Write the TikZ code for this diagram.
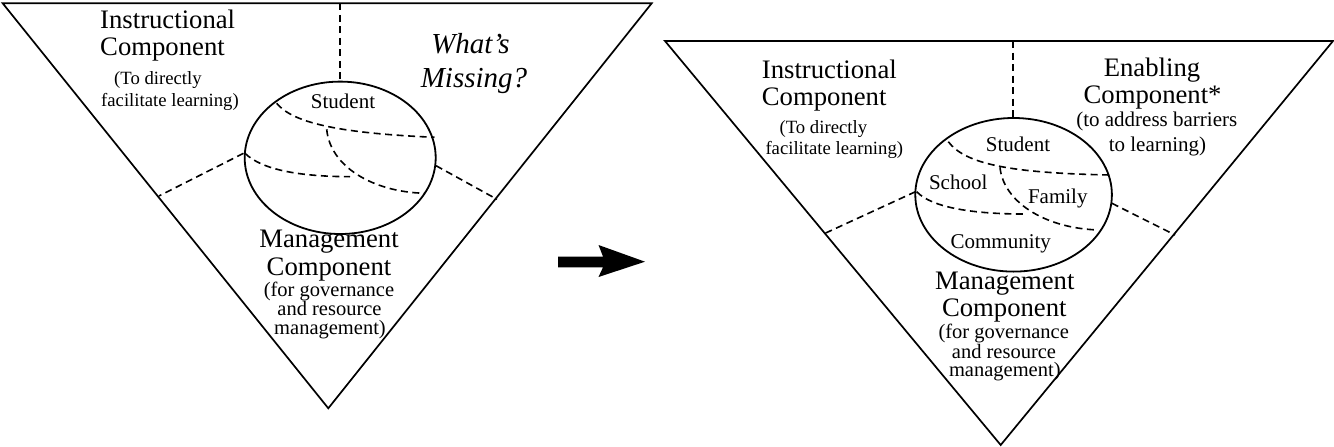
\documentclass[tikz,border=0pt]{standalone}
\usepackage{fontspec}
\setmainfont{Liberation Serif}
\begin{document}
\begin{tikzpicture}[x=1pt,y=-1pt,
  tri/.style={line width=1.7pt, line join=miter},
  ell/.style={line width=1.8pt},
  dsh/.style={line width=1.6pt, dash pattern=on 7pt off 4.5pt},
  big/.style={font=\fontsize{26.7}{27}\selectfont, inner sep=0pt},
  sml/.style={font=\fontsize{18.7}{19}\selectfont, inner sep=0pt},
  mid/.style={font=\fontsize{21}{21}\selectfont, inner sep=0pt},
  mgt/.style={font=\fontsize{20.5}{20}\selectfont, inner sep=0pt},
  ital/.style={font=\fontsize{29}{29}\selectfont\itshape, inner sep=0pt}]
\useasboundingbox (0,0) rectangle (1334,447);

% ---------------- left triangle ----------------
\coordinate (LA) at (2.7,3.3);
\coordinate (LB) at (651.7,3.3);
\coordinate (LC) at (328.3,408.3);
\draw[tri] (LA) -- (LB) -- (LC) -- cycle;

\draw[ell] (340.2,157.8) ellipse [x radius=95.5pt, y radius=76.2pt];
\coordinate (LeTop) at (340.2,81.6);
\coordinate (LvTop) at (340.2,3.3);
\draw[dsh] (LvTop) -- (LeTop);
\coordinate (LeW) at (243.5,153.3);
\coordinate (LsW) at (158.9,196);
\draw[dsh] (LeW) -- (LsW);
\coordinate (LeE) at (436,165.7);
\coordinate (LsE) at (497,199.3);
\draw[dsh] (LeE) -- (LsE);

\coordinate (L1a) at (276.7,103.3);
\coordinate (L1b) at (434.5,137.3);
\coordinate (Lj) at (326.7,129.3);
\draw[dsh] (L1a) .. controls (292,122) and (335,133) .. (L1b);
\coordinate (L2a) at (245,153.3);
\coordinate (L2b) at (350,176.7);
\draw[dsh] (L2a) .. controls (262,170) and (300,176.5) .. (L2b);
\coordinate (L3b) at (425,193.3);
\draw[dsh] (Lj) .. controls (330,166) and (372,192) .. (L3b);

\node[big, anchor=base west] (li1) at (100,28.3) {Instructional};
\node[big, anchor=base west] (li2) at (100,55) {Component};
\node[sml, anchor=base west] (li3) at (114,84) {(To directly};
\node[sml, anchor=base west] (li4) at (101,106) {facilitate learning)};
\node[ital, anchor=base] (lw1) at (470.5,53.3) {What’s};
\node[ital, anchor=base] (lw2) at (474,87.3) {Missing?};
\node[mid, anchor=base] (lst) at (343,108.6) {Student};
\node[big, anchor=base] (lm1) at (329,247.3) {Management};
\node[big, anchor=base] (lm2) at (329,275) {Component};
\node[mgt, anchor=base] (lm3) at (329,296.5) {(for governance};
\node[mgt, anchor=base] (lm4) at (329.5,315.3) {and resource};
\node[mgt, anchor=base] (lm5) at (330,334.5) {management)};

% ---------------- arrow ----------------
\fill (558,256.5) -- (603,256.5) -- (598.5,245) -- (645,261.7) -- (598.5,277) -- (603,267.3) -- (558,267.3) -- cycle;

% ---------------- right triangle ----------------
\coordinate (RA) at (665,41);
\coordinate (RB) at (1333,41);
\coordinate (RC) at (1000.7,445);
\draw[tri] (RA) -- (RB) -- (RC) -- cycle;

\draw[ell] (1013.6,194.8) ellipse [x radius=98.3pt, y radius=76.8pt];
\coordinate (ReTop) at (1013.2,118);
\coordinate (RvTop) at (1013.2,41);
\draw[dsh] (RvTop) -- (ReTop);
\coordinate (ReW) at (915.5,191.7);
\coordinate (RsW) at (825,233.3);
\draw[dsh] (ReW) -- (RsW);
\coordinate (ReE) at (1111.9,203.3);
\coordinate (RsE) at (1175,235);
\draw[dsh] (ReE) -- (RsE);

\coordinate (R1a) at (948.3,141.7);
\coordinate (R1b) at (1110,175);
\coordinate (Rj) at (1000,167.3);
\draw[dsh] (R1a) .. controls (965,164) and (1010,173) .. (R1b);
\coordinate (R2a) at (916.7,191.7);
\coordinate (R2b) at (1023.3,214);
\draw[dsh] (R2a) .. controls (932,208) and (975,214) .. (R2b);
\coordinate (R3b) at (1098.3,230);
\draw[dsh] (Rj) .. controls (1003,200) and (1042,228) .. (R3b);

\node[big, anchor=base west] (ri1) at (761.7,78.3) {Instructional};
\node[big, anchor=base west] (ri2) at (761.7,105) {Component};
\node[sml, anchor=base west] (ri3) at (779.4,133.3) {(To directly};
\node[sml, anchor=base west] (ri4) at (765.3,154) {facilitate learning)};
\node[big, anchor=base] (re1) at (1152,76.7) {Enabling};
\node[big, anchor=base] (re2) at (1152.6,103.3) {Component*};
\node[mid, anchor=base] (re3) at (1156.8,126.7) {(to address barriers};
\node[mid, anchor=base] (re4) at (1157.5,151.7) {to learning)};
\node[mid, anchor=base] (rst) at (1018,151.7) {Student};
\node[mid, anchor=base] (rsc) at (958.2,189) {School};
\node[mid, anchor=base] (rfa) at (1057.8,203.3) {Family};
\node[mid, anchor=base] (rco) at (1000.8,248.3) {Community};
\node[big, anchor=base] (rm1) at (1004.8,289.3) {Management};
\node[big, anchor=base] (rm2) at (1004.3,316.7) {Component};
\node[mgt, anchor=base] (rm3) at (1003.7,338.3) {(for governance};
\node[mgt, anchor=base] (rm4) at (1004,358.3) {and resource};
\node[mgt, anchor=base] (rm5) at (1004.8,376.7) {management)};
\end{tikzpicture}
\end{document}
